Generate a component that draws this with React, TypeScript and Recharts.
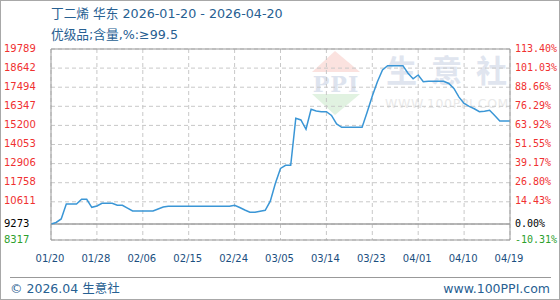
import { LineChart, Line, XAxis, YAxis, CartesianGrid, ReferenceLine } from "recharts";

// 丁二烯 华东 daily price, 2026-01-20 .. 2026-04-20
const prices = [
  9273, 9370, 9580, 10480, 10480, 10480, 10762, 10762, 10282, 10360,
  10522, 10522, 10522, 10402, 10402, 10230, 10059, 10059, 10059, 10059,
  10059, 10180, 10300, 10342, 10342, 10342, 10342, 10342, 10342, 10342,
  10342, 10342, 10342, 10342, 10342, 10342, 10402, 10270, 10119, 9981,
  9981, 10040, 10101, 10650, 11723, 12613, 12804, 12804, 15627, 15525,
  14966, 16167, 16065, 16023, 16023, 15800, 15285, 15086, 15086, 15086,
  15086, 15086, 16000, 16970, 17825, 18530, 18786, 18786, 18786, 18786,
  18330, 18000, 18228, 17825, 17850, 17850, 17850, 17850, 17720, 17420,
  16900, 16520, 16340, 16200, 16023, 16050, 16107, 15800, 15465, 15465,
  15465,
];

const basePrice = 9273;
const priceTicks = [8317, 9273, 10611, 11758, 12906, 14053, 15200, 16347, 17494, 18642, 19789];
const pctLabels = ["-10.31%", "0.00%", "14.43%", "26.80%", "39.17%", "51.55%", "63.92%", "76.29%", "88.66%", "101.03%", "113.40%"];
const dateLabels = ["01/20", "01/28", "02/06", "02/15", "02/24", "03/05", "03/14", "03/23", "04/01", "04/10", "04/19"];
const gridDays = [0, 9, 18, 27, 36, 45, 54, 63, 72, 81, 90];

const tickColor = (v: number) => (v === basePrice ? "#000" : v < basePrice ? "#2ca02c" : "#f03030");

const PriceTick = (props: any) => {
  const v = props.payload.value;
  return (
    <text x={4} y={props.y - 1} dominantBaseline="central" fill={tickColor(v)} fontSize={10} fontFamily="DejaVu Sans">
      {v}
    </text>
  );
};

const PctTick = (props: any) => {
  const v = props.payload.value;
  return (
    <text x={515} y={props.y - 1} dominantBaseline="central" fill={tickColor(v)} fontSize={10} fontFamily="DejaVu Sans Mono">
      {pctLabels[priceTicks.indexOf(v)]}
    </text>
  );
};

const DateTick = (props: any) => {
  const i = gridDays.indexOf(props.payload.value);
  return (
    <text x={props.x - 1} y={258} textAnchor="middle" dominantBaseline="central" fill="#1b4f80" fontSize={10} fontFamily="DejaVu Sans">
      {dateLabels[i]}
    </text>
  );
};

const wmChars = ["生", "意", "社"];

const Watermark = () => (
  <>
    <svg width={560} height={300} style={{ position: "absolute", left: 0, top: 0 }}>
      <polygon points="335,51 312,72 360,72" fill="#fbe2df" />
      <text x={336} y={92} textAnchor="middle" fontSize={22} fontWeight="bold" fontFamily="DejaVu Serif" fill="#dde3ee" letterSpacing={1}>
        PPI
      </text>
      <polygon points="312,94 360,94 335,115" fill="#e1f2e1" />
    </svg>
    {wmChars.map((c, i) => (
      <div
        key={c}
        style={{
          position: "absolute",
          left: 386 + i * 45,
          top: 50,
          fontSize: 31,
          lineHeight: "38px",
          fontWeight: "bold",
          color: "#e0e5ef",
          fontFamily: "'Noto Sans CJK SC', sans-serif",
        }}
      >
        {c}
      </div>
    ))}
    <div
      style={{
        position: "absolute",
        left: 385,
        top: 97,
        fontSize: 12.5,
        lineHeight: "14px",
        color: "#e9e9e9",
        letterSpacing: 0.6,
        fontFamily: "'DejaVu Sans', sans-serif",
        whiteSpace: "nowrap",
      }}
    >
      WWW.100PPI.COM
    </div>
  </>
);

export default function App() {
  const data = prices.map((price, i) => ({ day: i, price }));
  const blue = "#276092";
  const textFont = "'DejaVu Sans', 'Noto Sans CJK SC', sans-serif";
  return (
    <div style={{ position: "relative", width: 560, height: 300, background: "#fff", overflow: "hidden" }}>
      <style>{"body{margin:0}"}</style>
      <Watermark />
      <div style={{ position: "absolute", left: 0, top: 0 }}>
        <LineChart width={560} height={300} data={data} margin={{ top: 49, right: 2, bottom: 38, left: 6 }}>
          <CartesianGrid xAxisId="g" yAxisId="l" stroke="#c8c8c8" strokeDasharray="4 3" />
          <XAxis
            xAxisId="g"
            dataKey="day"
            type="number"
            domain={[0, 90]}
            ticks={gridDays}
            interval={0}
            height={22}
            tickLine={false}
            axisLine={{ stroke: "#999" }}
            tick={<DateTick />}
            allowDataOverflow
          />
          <YAxis
            yAxisId="l"
            domain={[8317, 19789]}
            ticks={priceTicks}
            interval={0}
            width={45}
            tickLine={false}
            axisLine={{ stroke: "#999" }}
            tick={<PriceTick />}
            allowDataOverflow
          />
          <YAxis
            yAxisId="r"
            orientation="right"
            domain={[8317, 19789]}
            ticks={priceTicks}
            interval={0}
            width={48}
            tickLine={false}
            axisLine={{ stroke: "#999" }}
            tick={<PctTick />}
            allowDataOverflow
          />
          <ReferenceLine xAxisId="g" yAxisId="l" y={19789} stroke="#999" />
          <ReferenceLine xAxisId="g" yAxisId="l" y={basePrice} stroke="#a0a0a0" strokeWidth={1.5} />
          <Line
            xAxisId="g"
            yAxisId="l"
            type="linear"
            dataKey="price"
            stroke="#3a96d6"
            strokeWidth={1.5}
            dot={false}
            isAnimationActive={false}
          />
        </LineChart>
      </div>
      <div style={{ position: "absolute", left: 51, top: 5, fontSize: 12.7, lineHeight: "18px", color: blue, fontFamily: textFont, whiteSpace: "nowrap" }}>
        丁二烯 华东 2026-01-20 - 2026-04-20
      </div>
      <div style={{ position: "absolute", left: 51, top: 26, fontSize: 12.7, lineHeight: "18px", color: blue, fontFamily: textFont, whiteSpace: "nowrap" }}>
        优级品;含量,%:≥99.5
      </div>
      <div style={{ position: "absolute", left: 10, top: 277, width: 541, height: 1, background: "#999" }} />
      <div style={{ position: "absolute", left: 10, top: 280, fontSize: 12.5, lineHeight: "18px", color: blue, fontFamily: textFont, whiteSpace: "nowrap" }}>
        © 2026.04 生意社
      </div>
      <div style={{ position: "absolute", right: 10, top: 280, fontSize: 12.5, lineHeight: "18px", color: blue, fontFamily: textFont, whiteSpace: "nowrap" }}>
        www.100PPI.com
      </div>
      <div style={{ position: "absolute", inset: 0, border: "1px solid #a8a8a8", boxSizing: "border-box", pointerEvents: "none" }} />
    </div>
  );
}
